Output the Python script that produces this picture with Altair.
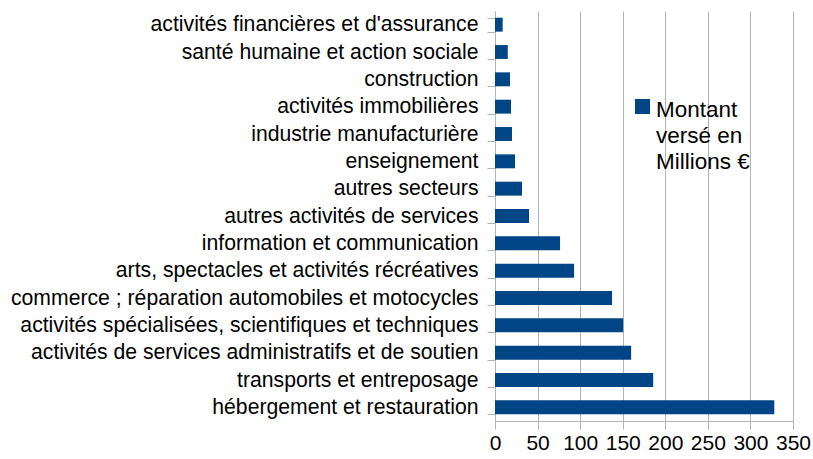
import altair as alt
import pandas as pd

categories = [
    "activités financières et d'assurance",
    "santé humaine et action sociale",
    "construction",
    "activités immobilières",
    "industrie manufacturière",
    "enseignement",
    "autres secteurs",
    "autres activités de services",
    "information et communication",
    "arts, spectacles et activités récréatives",
    "commerce ; réparation automobiles et motocycles",
    "activités spécialisées, scientifiques et techniques",
    "activités de services administratifs et de soutien",
    "transports et entreposage",
    "hébergement et restauration",
]
values = [9, 15, 17.6, 18.8, 20, 23.5, 31.7, 40, 76.4, 92.9, 137.5, 150.5, 159.9, 185.8, 328]
series_name = "Montant versé en Millions €"
legend_lines = ["Montant", "versé en", "Millions €"]
x_ticks = [0, 50, 100, 150, 200, 250, 300, 350]

df = pd.DataFrame({"secteur": categories, "montant": values, "serie": series_name})

FONT = "Liberation Sans"

chart = (
    alt.Chart(df)
    .mark_bar(color="#004586")
    .encode(
        y=alt.Y(
            "secteur:N",
            sort=categories,
            title=None,
            scale=alt.Scale(paddingInner=0.49, paddingOuter=0.245),
            axis=alt.Axis(
                tickBand="extent",
                tickColor="#b3b3b3",
                tickSize=8,
                domainColor="#b3b3b3",
                labelFontSize=21.2,
                labelColor="#000000",
                labelFont=FONT,
                labelPadding=9,
                labelLimit=600,
                grid=False,
            ),
        ),
        x=alt.X(
            "montant:Q",
            title=None,
            scale=alt.Scale(domain=[0, 350], nice=False),
            axis=alt.Axis(
                values=x_ticks,
                tickColor="#b3b3b3",
                tickSize=8,
                domainColor="#b3b3b3",
                gridColor="#b3b3b3",
                labelFontSize=21,
                labelColor="#000000",
                labelFont=FONT,
                labelPadding=3,
                labelFlush=False,
            ),
        ),
        fill=alt.Fill(
            "serie:N",
            scale=alt.Scale(range=["#004586"]),
            legend=alt.Legend(
                title=legend_lines,
                titleOrient="right",
                titleFont=FONT,
                titleFontSize=22.5,
                titleFontWeight="normal",
                titleColor="#000000",
                titleLineHeight=26,
                titleBaseline="top",
                titleAlign="left",
                titleAnchor="start",
                titlePadding=6,
                orient="none",
                legendX=140,
                legendY=88,
                symbolType="square",
                symbolSize=225,
                symbolStrokeWidth=0,
                labelExpr="''",
                labelOffset=0,
                labelFontSize=1,
            ),
        ),
    )
    .properties(
        width=298,
        height=410,
        autosize=alt.AutoSizeParams(type="none"),
        padding={"left": 495, "top": 11, "right": 20, "bottom": 38},
    )
    .configure_view(stroke=None)
)

chart.save("out.html", embed_options={"renderer": "svg", "actions": False})
